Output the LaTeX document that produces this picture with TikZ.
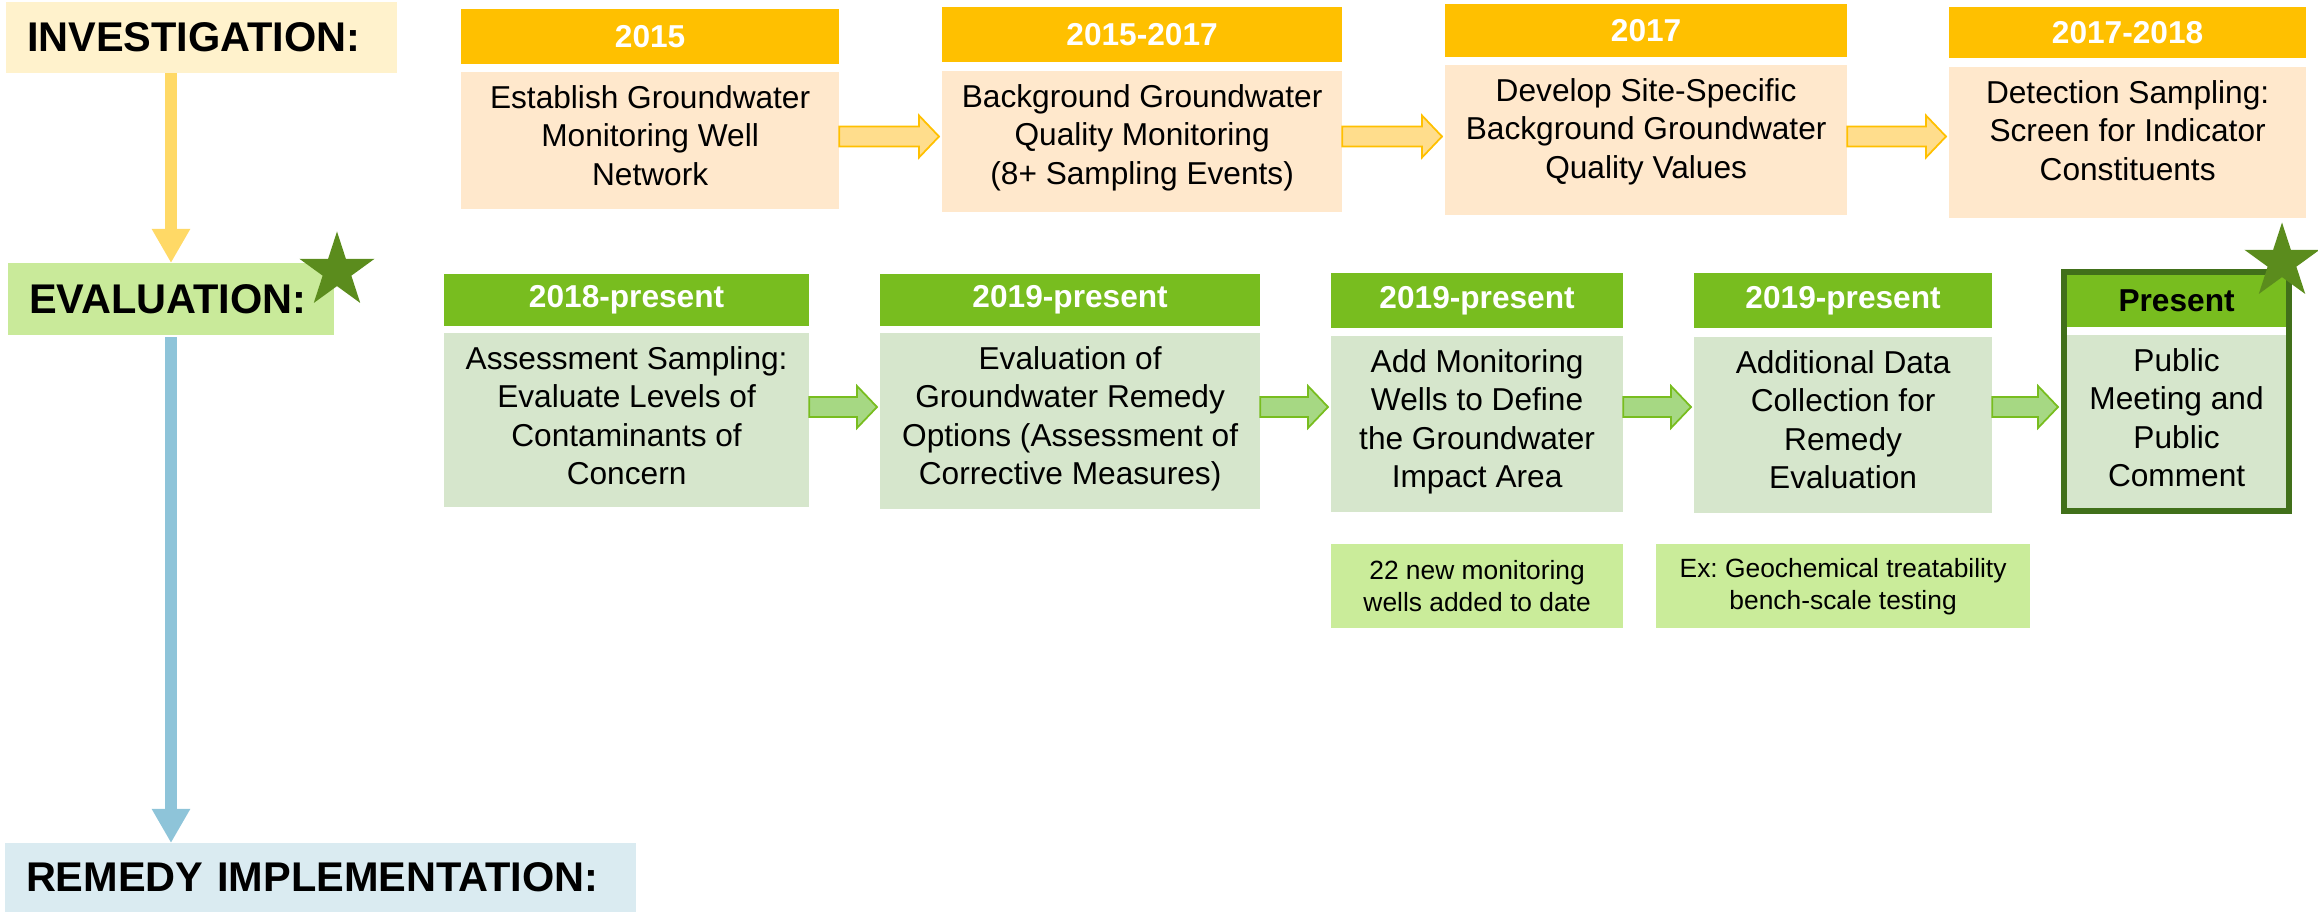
\documentclass[tikz,border=0pt]{standalone}
\usepackage{fontspec}
\setmainfont{Liberation Sans}
\usepackage{xcolor}
\usetikzlibrary{arrows.meta,positioning,shapes.geometric,fit,calc}

\definecolor{invbg}{HTML}{FFF2CC}
\definecolor{invarrow}{HTML}{FFD966}
\definecolor{evabg}{HTML}{C9EA9A}
\definecolor{evaarrow}{HTML}{8EC4D9}
\definecolor{rembg}{HTML}{DAEBF1}
\definecolor{gold}{HTML}{FFC000}
\definecolor{peach}{HTML}{FFE8CC}
\definecolor{goldarrow}{HTML}{FFDD8C}
\definecolor{leafgreen}{HTML}{78BD1F}
\definecolor{sage}{HTML}{D6E6CC}
\definecolor{leafarrow}{HTML}{A6D883}
\definecolor{framegreen}{HTML}{41701A}
\definecolor{stargreen}{HTML}{5B8C1D}
\definecolor{notegreen}{HTML}{CAEC9A}

\newcommand{\bodyfont}{\fontsize{9pt}{10.95pt}\selectfont}
\newcommand{\barfont}{\fontsize{9pt}{10.95pt}\selectfont\bfseries}
\newcommand{\phasefont}{\fontsize{11.8pt}{14pt}\selectfont\bfseries}
\newcommand{\notefont}{\fontsize{7.5pt}{9.1pt}\selectfont}
% text hung from the top of a stage box
\newcommand{\boxtext}[3]{\parbox[c][#2][t]{#1}{\centering\rule{0pt}{0.36cm}#3}}
% block arrow between two anchors
\newcommand{\flowarrow}[3]{%
  \draw[#1] let \p1=(#2), \p2=(#3) in
    (\x1,\y1+0.1cm) -- (\x2-0.23cm,\y1+0.1cm) -- (\x2-0.23cm,\y1+0.21cm) -- (\x2-0.03cm,\y1)
    -- (\x2-0.23cm,\y1-0.21cm) -- (\x2-0.23cm,\y1-0.1cm) -- (\x1,\y1-0.1cm) -- cycle;}

\begin{document}
\frenchspacing
\begin{tikzpicture}[x=0.01cm, y=-0.01cm,
    phase/.style={anchor=north west, inner xsep=0.21cm, inner ysep=0, outer sep=0, align=left, font=\phasefont},
    phasearrow/.style={line width=0.12cm, -{Triangle[width=0.36cm,length=0.34cm]}},
    yearbar/.style={anchor=north west, fill=gold, text=white, font=\barfont, inner sep=0, outer sep=0},
    stagebody/.style={fill=peach, inner sep=0, outer sep=0, font=\bodyfont},
    toparrow/.style={fill=goldarrow, draw=gold, line width=0.5pt},
    midarrow/.style={fill=leafarrow, draw=leafgreen, line width=0.5pt},
    note/.style={fill=notegreen, align=center, font=\notefont, inner sep=0, outer sep=0, minimum height=0.84cm},
    stagestar/.style={star, star points=5, star point ratio=2.618, fill=stargreen, minimum size=0.79cm, inner sep=0}]
    \useasboundingbox (0,0) rectangle (2318,912);

    % Phases
    \node[phase, fill=invbg, text width=3.49cm, minimum height=0.71cm] (inv) at (6,2) {INVESTIGATION:};
    \node[phase, fill=evabg, text width=2.84cm, minimum height=0.72cm] (eva) at (8,263) {EVALUATION:};
    \node[phase, fill=rembg, text width=5.89cm, minimum height=0.69cm] (rem) at (5,843) {REMEDY IMPLEMENTATION:};
    \coordinate (spine) at (171,0);
    \draw[phasearrow, draw=invarrow] (inv.south -| spine) -- (eva.north -| spine);
    \draw[phasearrow, draw=evaarrow] ([yshift=-0.02cm]eva.south -| spine) -- (rem.north -| spine);

    % Investigation steps
    \node[yearbar, minimum width=3.78cm, minimum height=0.55cm] (t1bar) at (461,9) {2015};
    \node[stagebody, below=0.08cm of t1bar] (t1body) {\boxtext{3.78cm}{1.37cm}{Establish Groundwater\\Monitoring Well\\Network}};
    \node[yearbar, minimum width=4.00cm, minimum height=0.55cm] (t2bar) at (942,7) {2015-2017};
    \node[stagebody, below=0.09cm of t2bar] (t2body) {\boxtext{4.00cm}{1.41cm}{Background Groundwater\\Quality Monitoring\\(8+ Sampling Events)}};
    \node[yearbar, minimum width=4.02cm, minimum height=0.53cm] (t3bar) at (1445,4) {2017};
    \node[stagebody, below=0.08cm of t3bar] (t3body) {\boxtext{4.02cm}{1.50cm}{Develop Site-Specific\\Background Groundwater\\Quality Values}};
    \node[yearbar, minimum width=3.57cm, minimum height=0.51cm] (t4bar) at (1949,7) {2017-2018};
    \node[stagebody, below=0.09cm of t4bar] (t4body) {\boxtext{3.57cm}{1.51cm}{Detection Sampling:\\Screen for Indicator\\Constituents}};

    % Evaluation steps
    \node[yearbar, fill=leafgreen, minimum width=3.65cm, minimum height=0.52cm] (m1bar) at (444,274) {2018-present};
    \node[stagebody, fill=sage, below=0.07cm of m1bar] (m1body) {\boxtext{3.65cm}{1.74cm}{Assessment Sampling:\\Evaluate Levels of\\Contaminants of\\Concern}};
    \node[yearbar, fill=leafgreen, minimum width=3.80cm, minimum height=0.52cm] (m2bar) at (880,274) {2019-present};
    \node[stagebody, fill=sage, below=0.07cm of m2bar] (m2body) {\boxtext{3.80cm}{1.76cm}{Evaluation of\\Groundwater Remedy\\Options (Assessment of\\Corrective Measures)}};
    \node[yearbar, fill=leafgreen, minimum width=2.92cm, minimum height=0.55cm] (m3bar) at (1331,273) {2019-present};
    \node[stagebody, fill=sage, below=0.08cm of m3bar] (m3body) {\boxtext{2.92cm}{1.76cm}{Add Monitoring\\Wells to Define\\the Groundwater\\Impact Area}};
    \node[yearbar, fill=leafgreen, minimum width=2.98cm, minimum height=0.55cm] (m4bar) at (1694,273) {2019-present};
    \node[stagebody, fill=sage, below=0.09cm of m4bar] (m4body) {\boxtext{2.98cm}{1.76cm}{Additional Data\\Collection for\\Remedy\\Evaluation}};
    \node[yearbar, fill=leafgreen, text=black, minimum width=2.19cm, minimum height=0.52cm] (m5bar) at (2067,275) {Present};
    \node[stagebody, fill=sage, below=0.08cm of m5bar] (m5body) {\boxtext{2.19cm}{1.73cm}{Public\\Meeting and\\Public\\Comment}};
    \node[fit=(m5bar)(m5body), draw=framegreen, line width=0.06cm, inner sep=0.03cm] (m5frame) {};

    % Notes
    \node[note, below=0.32cm of m3body, minimum width=2.92cm] (n1) {22 new monitoring\\wells added to date};
    \node[note, below=0.31cm of m4body, minimum width=3.74cm] (n2) {Ex: Geochemical treatability\\bench-scale testing};

    % Arrows
    \coordinate (toprow) at (0,136.5);
    \coordinate (midrow) at (0,407);
    \flowarrow{toparrow}{t1body.east |- toprow}{t2body.west |- toprow}
    \flowarrow{toparrow}{t2body.east |- toprow}{t3body.west |- toprow}
    \flowarrow{toparrow}{t3body.east |- toprow}{t4body.west |- toprow}
    \flowarrow{midarrow}{m1body.east |- midrow}{m2body.west |- midrow}
    \flowarrow{midarrow}{m2body.east |- midrow}{m3body.west |- midrow}
    \flowarrow{midarrow}{m3body.east |- midrow}{m4body.west |- midrow}
    \flowarrow{midarrow}{m4body.east |- midrow}{m5frame.west |- midrow}

    % Current stage marks
    \node[stagestar] (evastar) at (337,271) {};
    \node[stagestar] (nowstar) at (2282,262) {};
\end{tikzpicture}
\end{document}
